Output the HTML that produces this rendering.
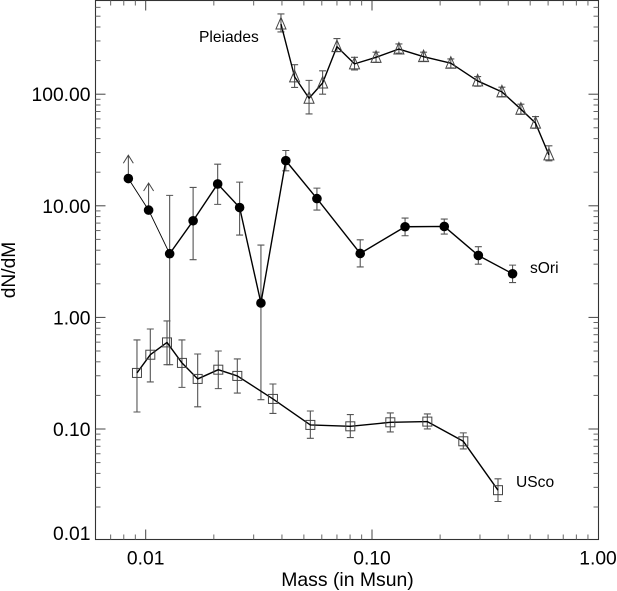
<!DOCTYPE html>
<html>
<head>
<meta charset="utf-8">
<title>dN/dM vs Mass</title>
<style>
html,body{margin:0;padding:0;background:#fff;}
svg{display:block;}
text{font-family:"Liberation Sans",Arial,sans-serif;fill:#000;}
</style>
</head>
<body>
<svg id="chart" xmlns="http://www.w3.org/2000/svg" width="617" height="591" viewBox="0 0 617 591">
<rect x="0" y="0" width="617" height="591" fill="#fff"/>
<rect x="95.5" y="0.5" width="503" height="539" fill="none" stroke="#333" stroke-width="1.1"/>
<g id="ticks"></g>
<g id="series"></g>
<text x="347.5" y="586" font-size="19.4" text-anchor="middle">Mass (in Msun)</text>
<text transform="translate(15,270) rotate(-90)" font-size="19.2" text-anchor="middle">dN/dM</text>
<text x="199" y="42" font-size="15.6">Pleiades</text>
<text x="530" y="273" font-size="15.6">sOri</text>
<text x="516" y="487" font-size="15.6">USco</text>
</svg>
<script>
const xTickValues = [0.01, 0.1, 1];
const xTickLabels = ["0.01", "0.10", "1.00"];
const yTickValues = [100, 10, 1, 0.1, 0.01];
const yTickLabels = ["100.00", "10.00", "1.00", "0.10", "0.01"];

const pleiadesMass = [0.0396,0.0455,0.0527,0.0605,0.0700,0.0837,0.1042,0.1315,0.169,0.223,0.293,0.375,0.455,0.528,0.605];
const pleiadesValue = [426,143,92,126,267,187,214,254,217,189.5,131.5,105,73.4,55,28.6];
const pleiadesHigh = [524,184,133,162,315,214,238,282,238,207,144,115.5,81.4,63,34.5];
const pleiadesLow = [361,115,66.6,100,241,165,193,233,197,172,118,95,66.2,49.6,25.3];

const soriMass = [0.00838,0.0103,0.01276,0.0162,0.0208,0.026,0.0323,0.0416,0.0571,0.0887,0.14,0.2086,0.295,0.418];
const soriValue = [17.55,9.15,3.72,7.34,15.7,9.65,1.346,25.4,11.6,3.74,6.49,6.53,3.59,2.46];
const soriHigh = [28.4,16,12.4,14.6,23.6,16.3,4.45,31.3,14.4,4.96,7.76,7.6,4.3,2.94];
const soriLow = [17.55,9.15,0.377,3.29,10.3,5.47,0.183,20.6,9.15,2.83,5.39,5.58,3.0,2.05];
const soriLowerLimitCount = 2;

const uscoMass = [0.00915,0.01048,0.01242,0.01446,0.01697,0.02093,0.0254,0.0365,0.0534,0.0802,0.1205,0.1756,0.2532,0.3604];
const uscoValue = [0.318,0.463,0.597,0.391,0.281,0.340,0.299,0.186,0.1088,0.1057,0.1148,0.1165,0.0776,0.0283];
const uscoHigh = [0.628,0.787,0.929,0.628,0.470,0.500,0.424,0.253,0.145,0.1346,0.1394,0.1365,0.0923,0.0358];
const uscoLow = [0.142,0.264,0.377,0.236,0.158,0.230,0.210,0.138,0.0826,0.0838,0.0942,0.1002,0.0663,0.0224];

const NS = "http://www.w3.org/2000/svg";
const plot = {left: 95.5, right: 598.5, top: 0.5, bottom: 539.5};
function xScale(v){ return 145.7 + (Math.log10(v) + 2) * 226.3; }
function yScale(v){ return 94.2 + (2 - Math.log10(v)) * 111.6; }
function mk(tag, parent, attrs){
  const el = document.createElementNS(NS, tag);
  for (const k in attrs) el.setAttribute(k, attrs[k]);
  parent.appendChild(el);
  return el;
}
const tickLayer = document.getElementById("ticks");
const seriesLayer = document.getElementById("series");

function tickLine(x1, y1, x2, y2, major){
  const t = mk("line", tickLayer, {x1: x1, y1: y1, x2: x2, y2: y2, stroke: major ? "#444" : "#666", "stroke-width": 1});
  
  
}
// x ticks
for (let d = -3; d < 0; d++) {
  for (let m = 1; m <= 9; m++) {
    const v = m * Math.pow(10, d);
    const px = xScale(v);
    if (px <= plot.left + 1 || px > plot.right + 0.5) continue;
    const len = m === 1 ? 10 : 5;
    tickLine(px, plot.bottom, px, plot.bottom - len, m === 1);
    tickLine(px, plot.top, px, plot.top + len, m === 1);
  }
}
// y ticks
for (let d = -2; d < 3; d++) {
  for (let m = 1; m <= 9; m++) {
    const v = m * Math.pow(10, d);
    const py = yScale(v);
    if (py <= plot.top + 1 || py > plot.bottom) continue;
    const len = m === 1 ? 10 : 5;
    tickLine(plot.left, py, plot.left + len, py, m === 1);
    tickLine(plot.right, py, plot.right - len, py, m === 1);
  }
}
xTickValues.forEach(function(v, i){
  const t = mk("text", tickLayer, {x: i === 2 ? 598 : xScale(v), y: 564.5, "font-size": 19.3, "text-anchor": "middle"});
  
  
  t.textContent = xTickLabels[i];
});
yTickValues.forEach(function(v, i){
  const last = i === yTickValues.length - 1;
  const t = mk("text", tickLayer, {x: 90.5, y: last ? 540 : yScale(v) + 7, "font-size": 19.3, "text-anchor": "end"});
  
  
  t.textContent = yTickLabels[i];
});

function errorBars(group, mass, high, low, skip){
  mass.forEach(function(m, i){
    if (i < skip) return;
    const x = xScale(m), y1 = yScale(high[i]), y2 = yScale(low[i]);
    const g = mk("path", group, {
      d: "M" + x + " " + y1 + "V" + y2 + "M" + (x - 3.5) + " " + y1 + "H" + (x + 3.5) + "M" + (x - 3.5) + " " + y2 + "H" + (x + 3.5),
      fill: "none", stroke: "#555", "stroke-width": 1.1
    });
    
    
  });
}
function linePath(group, mass, value, startIndex, endIndex, width){
  let d = "";
  for (let i = startIndex; i <= endIndex; i++) {
    d += (i === startIndex ? "M" : "L") + xScale(mass[i]) + " " + yScale(value[i]);
  }
  const l = mk("path", group, {d: d, fill: "none", stroke: "#000", "stroke-width": width, "stroke-linejoin": "round"});
  
  
}

// Pleiades
const gPleiades = mk("g", seriesLayer, {});


errorBars(gPleiades, pleiadesMass, pleiadesHigh, pleiadesLow, 0);
linePath(gPleiades, pleiadesMass, pleiadesValue, 0, pleiadesMass.length - 1, 1.4);
pleiadesMass.forEach(function(m, i){
  const x = xScale(m), y = yScale(pleiadesValue[i]);
  const p = mk("path", gPleiades, {
    d: "M" + x + " " + (y - 6.5) + "L" + (x + 5) + " " + (y + 5) + "H" + (x - 5) + "Z",
    fill: "none", stroke: "#444", "stroke-width": 1
  });
  
  
});

// sOri
const gSori = mk("g", seriesLayer, {});


errorBars(gSori, soriMass, soriHigh, soriLow, soriLowerLimitCount);
linePath(gSori, soriMass, soriValue, 0, soriLowerLimitCount, 0.9);
linePath(gSori, soriMass, soriValue, soriLowerLimitCount, soriMass.length - 1, 1.4);
for (let i = 0; i < soriLowerLimitCount; i++) {
  const x = xScale(soriMass[i]), y1 = yScale(soriValue[i]), y2 = yScale(soriHigh[i]);
  const a = mk("path", gSori, {
    d: "M" + x + " " + y1 + "V" + y2 + "M" + (x - 5) + " " + (y2 + 8) + "L" + x + " " + y2 + "L" + (x + 5) + " " + (y2 + 8),
    fill: "none", stroke: "#444", "stroke-width": 1
  });
  
  
}
soriMass.forEach(function(m, i){
  const c = mk("circle", gSori, {cx: xScale(m), cy: yScale(soriValue[i]), r: 4.8, fill: "#000"});
  
  
});

// USco
const gUsco = mk("g", seriesLayer, {});


errorBars(gUsco, uscoMass, uscoHigh, uscoLow, 0);
linePath(gUsco, uscoMass, uscoValue, 0, uscoMass.length - 1, 1.4);
uscoMass.forEach(function(m, i){
  const x = xScale(m), y = yScale(uscoValue[i]);
  const r = mk("rect", gUsco, {x: x - 4.5, y: y - 4.5, width: 9, height: 9, fill: "none", stroke: "#444", "stroke-width": 1});
  
  
});
</script>
</body>
</html>
